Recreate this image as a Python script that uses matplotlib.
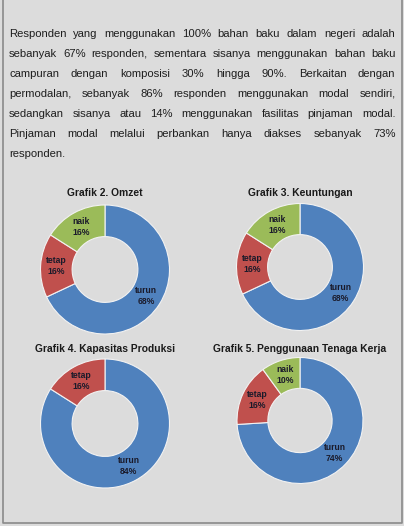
# %%
# Recreating the page with the paragraph and four donut charts
import math
import matplotlib.pyplot as plt

# %%
# Data
paragraph_lines = [
    'Responden yang menggunakan 100% bahan baku dalam negeri adalah',
    'sebanyak 67% responden, sementara sisanya menggunakan bahan baku',
    'campuran dengan komposisi 30% hingga 90%. Berkaitan dengan',
    'permodalan, sebanyak 86% responden menggunakan modal sendiri,',
    'sedangkan sisanya atau 14% menggunakan fasilitas pinjaman modal.',
    'Pinjaman modal melalui perbankan hanya diakses sebanyak 73%',
    'responden.',
]

titles = ['Grafik 2. Omzet', 'Grafik 3. Keuntungan',
          'Grafik 4. Kapasitas Produksi', 'Grafik 5. Penggunaan Tenaga Kerja']
omzet_labels = ['turun', 'tetap', 'naik']
omzet_values = [68, 16, 16]
untung_labels = ['turun', 'tetap', 'naik']
untung_values = [68, 16, 16]
kapasitas_labels = ['turun', 'tetap']
kapasitas_values = [84, 16]
tenaga_labels = ['turun', 'tetap', 'naik']
tenaga_values = [74, 16, 10]

colors = {'turun': '#4F81BD', 'tetap': '#C0504D', 'naik': '#9BBB59'}

# %%
W, H = 404, 526
fig = plt.figure(figsize=(W / 100, H / 100), dpi=100)
fig.patch.set_facecolor('#dcdcdc')

# frame lines (left, right, bottom)
frame = fig.add_axes([0, 0, 1, 1])
frame.set_xlim(0, W)
frame.set_ylim(H, 0)
frame.axis('off')
frame.plot([2.5, 2.5, 401.5, 401.5], [0, 522.5, 522.5, 0], color='#8a8a8a', lw=1.2)

# %%
# Justified paragraph
renderer = fig.canvas.get_renderer()
left, right = 9, 395.5
line_y = [34, 54, 74, 94, 114, 134, 154]
for i, line in enumerate(paragraph_lines):
    words = line.split(' ')
    texts = [frame.text(0, line_y[i], w, fontsize=8.1, family='Liberation Sans',
                        color='#1e1e1e', va='center', ha='left') for w in words]
    widths = [t.get_window_extent(renderer).width for t in texts]
    if i < len(paragraph_lines) - 1 and len(words) > 1:
        gap = (right - left - sum(widths)) / (len(words) - 1)
    else:
        gap = 3.5
    x = left
    for t, w in zip(texts, widths):
        t.set_x(x)
        x += w + gap

# %%
# Donut charts
charts = [
    (omzet_labels, omzet_values, 105, 269.5, 64.5, titles[0], 193),
    (untung_labels, untung_values, 300, 267, 63.5, titles[1], 193),
    (kapasitas_labels, kapasitas_values, 105, 423.5, 64.5, titles[2], 349),
    (tenaga_labels, tenaga_values, 300, 420.5, 63, titles[3], 349),
]
for labels, values, cx, cy, r, title, ty in charts:
    ax = fig.add_axes([(cx - r) / W, 1 - (cy + r) / H, 2 * r / W, 2 * r / H])
    ax.pie(values, colors=[colors[l] for l in labels], startangle=90, counterclock=False,
           radius=1, wedgeprops=dict(width=0.49, edgecolor='#f2f2f2', linewidth=0.8))
    ax.set_xlim(-1, 1)
    ax.set_ylim(-1, 1)
    ax.set_aspect('equal')
    ax.axis('off')
    # labels at the middle of each ring segment
    start = 90.0
    total = sum(values)
    for l, v in zip(labels, values):
        mid = start - 360.0 * v / total / 2
        start -= 360.0 * v / total
        rr = 0.755
        ax.text(rr * math.cos(math.radians(mid)), rr * math.sin(math.radians(mid)),
                '%s\n%d%%' % (l, v), ha='center', va='center', fontsize=6.2,
                fontweight='bold', color='#1a1a2a', linespacing=1.3,
                family='Liberation Sans')
    frame.text(cx, ty, title, ha='center', va='center', fontsize=7.4,
               fontweight='bold', family='Liberation Sans', color='#1a1a1a')

plt.savefig('out.png', dpi=100, facecolor=fig.get_facecolor())
